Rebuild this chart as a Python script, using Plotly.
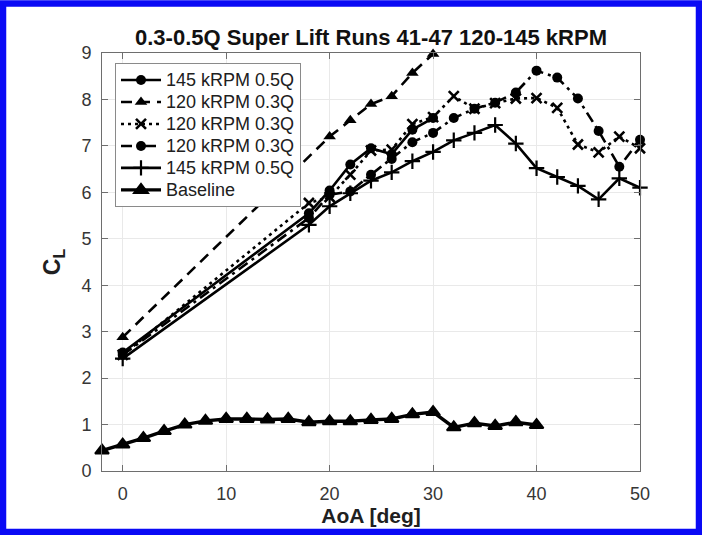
import plotly.graph_objects as go

# ---------------- data ----------------
aoa_base = [-2, 0, 2, 4, 6, 8, 10, 12, 14, 16, 18, 20, 22, 24, 26, 28, 30, 32, 34, 36, 38, 40]
cl_base = [0.44, 0.57, 0.71, 0.86, 1.00, 1.08, 1.12, 1.12, 1.11, 1.12, 1.05, 1.07,
           1.07, 1.10, 1.12, 1.22, 1.27, 0.94, 1.03, 0.97, 1.05, 0.99]

aoa_s1 = [0, 18, 20, 22, 24, 26, 28, 30]
cl_s1 = [2.55, 5.55, 6.04, 6.60, 6.95, 6.82, 7.35, 7.60]

aoa_s2 = [0, 20, 22, 24, 26, 28, 30]
cl_s2 = [2.88, 7.20, 7.55, 7.90, 8.07, 8.57, 8.98]

aoa_long = [0, 18, 20, 22, 24, 26, 28, 30, 32, 34, 36, 38, 40, 42, 44, 46, 48, 50]
cl_s3 = [2.50, 5.77, 5.90, 6.38, 6.90, 6.92, 7.47, 7.62, 8.07, 7.80, 7.92, 8.02,
         8.03, 7.82, 7.03, 6.86, 7.20, 6.95]
cl_s4 = [2.50, 5.45, 5.95, 6.02, 6.38, 6.72, 7.08, 7.28, 7.60, 7.80, 7.93, 8.15,
         8.62, 8.47, 8.02, 7.32, 6.55, 7.13]
cl_s5 = [2.42, 5.30, 5.70, 5.98, 6.25, 6.43, 6.67, 6.87, 7.12, 7.28, 7.45, 7.05,
         6.52, 6.33, 6.14, 5.85, 6.30, 6.10]

names = ["145 kRPM 0.5Q", "120 kRPM 0.3Q", "120 kRPM 0.3Q",
         "120 kRPM 0.3Q", "145 kRPM 0.5Q", "Baseline"]

title_text = "0.3-0.5Q Super Lift Runs 41-47 120-145 kRPM"
x_ticks = [0, 10, 20, 30, 40, 50]
y_ticks = [0, 1, 2, 3, 4, 5, 6, 7, 8, 9]

# ---------------- styling ----------------
FONT = "Liberation Sans, Arial, Helvetica, sans-serif"
BLACK = "#000000"
LW = 2.6


def leg(name):
    return '<span style="font-size:18px">' + name + '</span>'


fig = go.Figure()

fig.add_trace(go.Scatter(
    x=aoa_s1, y=cl_s1, name=leg(names[0]), mode="lines+markers", cliponaxis=False,
    line=dict(color=BLACK, width=LW),
    marker=dict(symbol="circle", size=10, color=BLACK)))

fig.add_trace(go.Scatter(
    x=aoa_s2, y=cl_s2, name=leg(names[1]), mode="lines+markers", cliponaxis=False,
    line=dict(color=BLACK, width=LW, dash="11px,7px"),
    marker=dict(symbol="triangle-up", size=11, color=BLACK)))

fig.add_trace(go.Scatter(
    x=aoa_long, y=cl_s3, name=leg(names[2]), mode="lines+markers", cliponaxis=False,
    line=dict(color=BLACK, width=LW, dash="3px,4px"),
    marker=dict(symbol="x-thin", size=10, color=BLACK,
                line=dict(color=BLACK, width=2.6))))

fig.add_trace(go.Scatter(
    x=aoa_long, y=cl_s4, name=leg(names[3]), mode="lines+markers", cliponaxis=False,
    line=dict(color=BLACK, width=LW, dash="11px,5px,3px,5px"),
    marker=dict(symbol="circle", size=10, color=BLACK)))

fig.add_trace(go.Scatter(
    x=aoa_long, y=cl_s5, name=leg(names[4]), mode="lines+markers", cliponaxis=False,
    line=dict(color=BLACK, width=LW),
    marker=dict(symbol="cross-thin", size=11, color=BLACK,
                line=dict(color=BLACK, width=2.2))))

fig.add_trace(go.Scatter(
    x=aoa_base, y=cl_base, name=leg(names[5]), mode="lines+markers", cliponaxis=False,
    line=dict(color=BLACK, width=3.4),
    marker=dict(symbol="triangle-up", size=12, color=BLACK,
                line=dict(color=BLACK, width=2))))

L, R, T, B = 102, 62, 53, 64
W_FIG, H_FIG = 702, 535
PW = W_FIG - L - R
PH = H_FIG - T - B


def px2paper_x(px):
    return (px - L) / PW


def px2paper_y(py):
    return (H_FIG - py - B) / PH


axis_common = dict(
    showgrid=True, gridcolor="#e9e9e9", gridwidth=1,
    showline=True, linecolor="#6e6e6e", linewidth=1, mirror="ticks",
    ticks="inside", ticklen=6, tickcolor="#6e6e6e", tickwidth=1,
    zeroline=False, ticklabelstandoff=6,
    tickfont=dict(family=FONT, size=18, color="#363636"),
)

fig.update_layout(
    width=W_FIG, height=H_FIG,
    margin=dict(l=L, r=R, t=T, b=B, pad=0),
    paper_bgcolor="white", plot_bgcolor="white",
    font=dict(family=FONT, color="#202020"),
    title=dict(text="<b>" + title_text + "</b>", x=0.5, xref="paper",
               xanchor="center", y=1 - 37 / H_FIG, yref="container",
               yanchor="middle",
               font=dict(family=FONT, size=22, color="#111111")),
    xaxis=dict(range=[-2, 50], tickvals=x_ticks,
               title=dict(text="<b>AoA [deg]</b>", standoff=4,
                          font=dict(family=FONT, size=21, color="#202020")),
               **axis_common),
    yaxis=dict(range=[0, 9], tickvals=y_ticks,
               title=dict(text="<b>C<sub>L</sub></b>", standoff=14,
                          font=dict(family=FONT, size=23, color="#202020")),
               **axis_common),
    legend=dict(x=px2paper_x(115), y=px2paper_y(63), xanchor="left", yanchor="top",
                bgcolor="white", bordercolor="#8a8a8a", borderwidth=1,
                font=dict(family=FONT, size=14.6, color="#202020"),
                itemwidth=40, tracegroupgap=0),
    showlegend=True,
    shapes=[dict(type="rect", xref="paper", yref="paper",
                 x0=px2paper_x(3), x1=px2paper_x(699),
                 y0=px2paper_y(532), y1=px2paper_y(3.5),
                 line=dict(color="#0a0af5", width=6.5), fillcolor="rgba(0,0,0,0)",
                 layer="above")],
)

fig.write_html("out.html")
